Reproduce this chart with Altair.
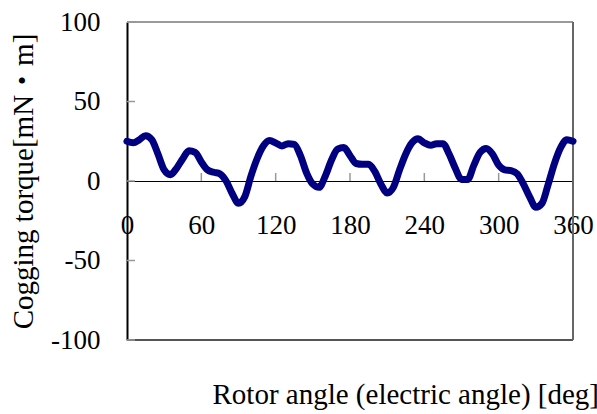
import altair as alt
import pandas as pd

# Rotor angle (electric degrees) and measured cogging torque [mN·m]
angles = list(range(0, 361, 5))
torque = [
    25, 24, 26, 28.5, 26, 17, 7, 4, 8, 14,
    19, 18, 12, 7, 5.5, 4.5, 0, -8, -14, -10,
    3, 14, 22, 25.5, 24, 22, 23.5, 23, 16, 5,
    -2, -4, 3, 13, 20, 21, 16, 11, 10.5, 10.5,
    6, -2, -7.5, -4, 7, 17, 24, 26.5, 24, 22.5,
    23.5, 23.5, 17, 8, 1, 1, 10, 18, 20.5, 17,
    10, 7, 6.5, 4.5, -2, -10, -16.5, -14, -2, 11,
    21, 26, 25,
]
x_ticks = [0, 60, 120, 180, 240, 300, 360]
y_ticks = [-100, -50, 0, 50, 100]

FONT = "Liberation Serif, Times New Roman, Noto Sans CJK JP, serif"
W, H = 446, 318

df = pd.DataFrame({"angle": angles, "torque": torque})
yt = pd.DataFrame({"v": y_ticks})
xt = pd.DataFrame({"a": x_ticks[1:-1]})

xscale = alt.Scale(domain=[0, 360], nice=False, zero=False)
yscale = alt.Scale(domain=[-100, 100], nice=False)

# plain hyphen for negative labels
hyphen = "datum.value < 0 ? '-' + abs(datum.value) : '' + datum.value"

curve = alt.Chart(df).mark_line(
    color="#000080", strokeWidth=7, interpolate="monotone",
    strokeCap="round", strokeJoin="round"
).encode(
    x=alt.X("angle:Q", scale=xscale, axis=alt.Axis(
        values=x_ticks, title=None, orient="bottom", offset=-(H / 2),
        domain=True, domainColor="black", domainWidth=1.2,
        ticks=False, labelFont=FONT, labelFontSize=27, labelColor="black",
        labelPadding=31, labelFlush=False, grid=False)),
    y=alt.Y("torque:Q", scale=yscale, axis=alt.Axis(
        values=y_ticks, title="Cogging torque[mN・m]",
        titleFont=FONT, titleFontSize=29, titleFontWeight="normal",
        titleColor="black", titlePadding=12,
        domain=True, domainColor="black", domainWidth=2,
        ticks=False, labelFont=FONT, labelFontSize=27, labelColor="black",
        labelPadding=27, labelExpr=hyphen, grid=False)),
)

base = alt.Chart(pd.DataFrame({"k": [0]}))

# plot-area frame: top, bottom and right edges at the scale limits
frame_top = base.mark_rule(color="#9a9a9a", strokeWidth=2).encode(
    y=alt.datum(100, scale=yscale), x=alt.value(0), x2=alt.value(W))
frame_bottom = base.mark_rule(color="#555555", strokeWidth=2).encode(
    y=alt.datum(-100, scale=yscale), x=alt.value(0), x2=alt.value(W))
frame_right = base.mark_rule(color="#666666", strokeWidth=2).encode(
    x=alt.datum(360, scale=xscale), y=alt.value(0), y2=alt.value(H))

# short tick marks drawn inward from the left axis
ytick_marks = alt.Chart(yt).mark_rule(color="#999999", strokeWidth=1.5).encode(
    y=alt.Y("v:Q", scale=yscale),
    x=alt.value(0),
    x2=alt.value(8),
)

# short tick marks pointing up from the zero line
xtick_marks = alt.Chart(xt).mark_rule(color="#999999", strokeWidth=1.5).encode(
    x=alt.X("a:Q", scale=xscale),
    y=alt.value(H / 2),
    y2=alt.value(H / 2 - 8),
)

chart = alt.layer(
    frame_top, frame_bottom, frame_right, xtick_marks, ytick_marks, curve
).properties(
    width=W, height=H,
    background="white",
    autosize=alt.AutoSizeParams(type="none"),
    padding={"left": 127, "top": 22, "right": 24, "bottom": 74},
    title=alt.TitleParams(
        text="Rotor angle (electric angle) [deg]",
        orient="bottom", anchor="start", offset=28, dx=203,
        font=FONT, fontSize=29, fontWeight="normal", color="black",
    ),
).configure_view(
    stroke=None,
)

chart.save("out.html", embed_options={"renderer": "svg", "actions": False})
